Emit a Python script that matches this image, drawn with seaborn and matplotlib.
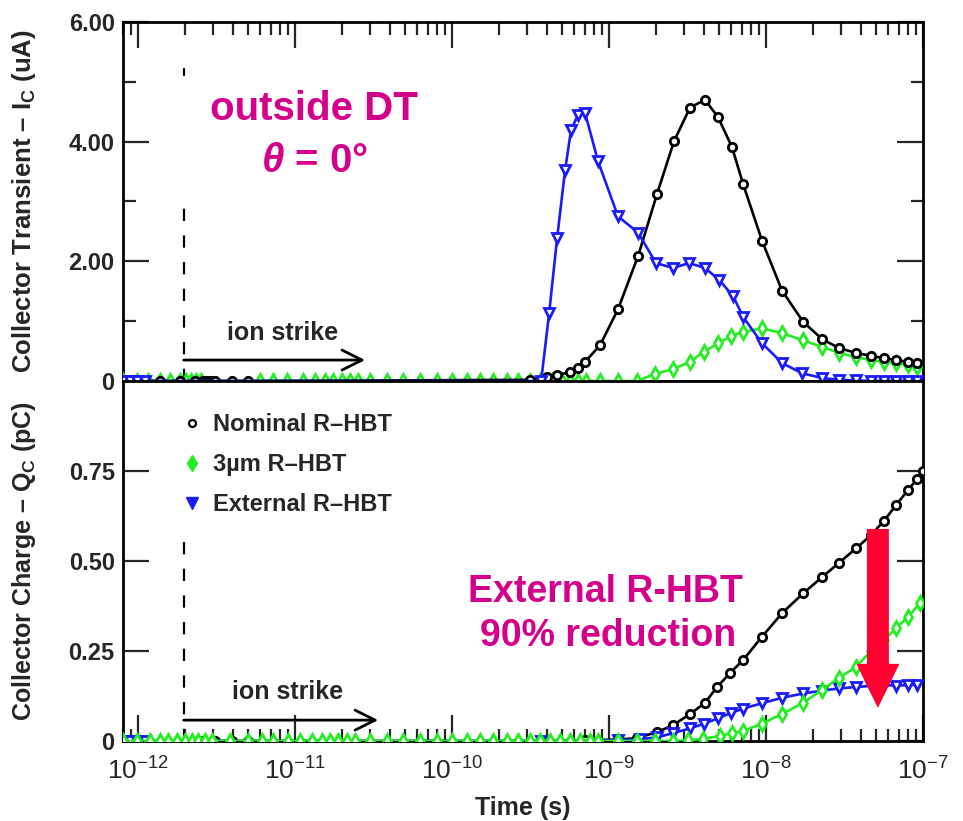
import numpy as np
import pandas as pd
import matplotlib
matplotlib.use("Agg")
import matplotlib.pyplot as plt
import seaborn as sns
from matplotlib.lines import Line2D
from matplotlib.ticker import FixedLocator, FixedFormatter, LogLocator, NullFormatter

# ---------------- data (time as log10 seconds) ----------------
series_names = ["Nominal R\u2013HBT", "3\u00b5m R\u2013HBT", "External R\u2013HBT"]

# Collector transient current (uA)
ic_nom_logt = [-12.097, -11.987, -11.860, -11.732, -11.637, -11.586, -11.567, -11.548, -11.529, -11.510,
               -11.401, -11.299, -9.503, -9.395, -9.331, -9.248, -9.197, -9.153, -9.057, -8.943,
               -8.815, -8.694, -8.586, -8.484, -8.389, -8.306, -8.217, -8.146, -8.025, -7.898,
               -7.764, -7.643, -7.535, -7.427, -7.331, -7.248, -7.172, -7.096, -7.038]
ic_nom = [0, 0, 0, 0, 0, 0, 0, 0, 0, 0,
          0, 0, 0.02, 0.07, 0.10, 0.15, 0.21, 0.32, 0.60, 1.20,
          2.09, 3.13, 4.01, 4.57, 4.70, 4.41, 3.91, 3.29, 2.34, 1.51,
          0.99, 0.70, 0.55, 0.47, 0.42, 0.38, 0.35, 0.32, 0.30]

ic_3um_logt = [-12.097, -12.006, -11.936, -11.860, -11.796, -11.732, -11.694, -11.662, -11.631, -11.599,
               -11.223, -11.140, -11.051, -10.949, -10.873, -10.809, -10.758, -10.701, -10.650, -10.599,
               -10.522, -10.414, -10.312, -10.204, -10.096, -10.000, -9.904, -9.822, -9.739, -9.650,
               -9.580, -9.503, -9.439, -9.363, -9.299, -9.248, -9.197, -9.146, -9.057, -8.943,
               -8.822, -8.707, -8.592, -8.484, -8.395, -8.306, -8.223, -8.146, -8.025, -7.898,
               -7.764, -7.643, -7.535, -7.427, -7.331, -7.248, -7.172, -7.096, -7.038]
ic_3um = [0, 0, 0, 0, 0, 0, 0, 0, 0, 0,
          0, 0, 0, 0, 0, 0, 0, 0, 0, 0,
          0, 0, 0, 0, 0, 0, 0, 0, 0, 0,
          0, 0, 0, 0, 0, 0, 0, 0, 0, 0,
          0, 0.12, 0.20, 0.32, 0.49, 0.63, 0.75, 0.82, 0.88, 0.80,
          0.68, 0.57, 0.47, 0.40, 0.35, 0.32, 0.30, 0.27, 0.24]

ic_ext_logt = [-12.097, -12.051, -12.006, -11.955, -9.433, -9.382, -9.331, -9.280, -9.242, -9.197,
               -9.153, -9.070, -8.943, -8.815, -8.701, -8.592, -8.490, -8.389, -8.299, -8.210,
               -8.146, -8.025, -7.898, -7.771, -7.643, -7.535, -7.427, -7.331, -7.248, -7.172,
               -7.096, -7.038]
ic_ext = [0, 0, 0, 0, 0.0, 1.13, 2.39, 3.53, 4.20, 4.45,
          4.48, 3.67, 2.75, 2.48, 1.97, 1.89, 1.97, 1.89, 1.69, 1.42,
          1.07, 0.63, 0.30, 0.13, 0.05, 0.02, 0.01, 0, 0, 0,
          0, 0]

# Collector charge (pC)
qc_nom_logt = [-12.097, -11.586, -11.510, -11.401, -11.299, -9.408, -9.153, -8.943, -8.822, -8.694,
               -8.592, -8.484, -8.389, -8.312, -8.229, -8.146, -8.025, -7.898, -7.764, -7.643,
               -7.535, -7.427, -7.331, -7.248, -7.172, -7.096, -7.038, -7.000]
qc_nom = [0, 0, 0, 0, 0, 0, 0.002, 0.004, 0.008, 0.025,
          0.044, 0.075, 0.106, 0.150, 0.189, 0.225, 0.290, 0.355, 0.410, 0.455,
          0.495, 0.535, 0.572, 0.612, 0.655, 0.697, 0.727, 0.750]

qc_3um_logt = [-12.097, -12.006, -11.924, -11.860, -11.809, -11.752, -11.701, -11.656, -11.618, -11.573,
               -11.529, -11.414, -11.299, -11.210, -11.140, -11.045, -10.968, -10.892, -10.828, -10.777,
               -10.726, -10.669, -10.618, -10.522, -10.414, -10.312, -10.204, -10.096, -10.000, -9.904,
               -9.822, -9.739, -9.650, -9.580, -9.503, -9.439, -9.376, -9.312, -9.248, -9.185,
               -9.121, -9.070, -8.943, -8.822, -8.707, -8.592, -8.497, -8.401, -8.293, -8.217,
               -8.146, -8.025, -7.898, -7.764, -7.643, -7.535, -7.427, -7.331, -7.248, -7.172,
               -7.096, -7.019]
qc_3um = [0, 0, 0, 0, 0, 0, 0, 0, 0, 0,
          0, 0, 0, 0, 0, 0, 0, 0, 0, 0,
          0, 0, 0, 0, 0, 0, 0, 0, 0, 0,
          0, 0, 0, 0, 0, 0, 0, 0, 0, 0,
          0, 0, 0, 0, 0, 0, 0.002, 0.006, 0.014, 0.022,
          0.028, 0.048, 0.075, 0.106, 0.142, 0.175, 0.206, 0.250, 0.280, 0.314,
          0.344, 0.383]

qc_ext_logt = [-12.097, -12.051, -12.006, -11.955, -9.433, -8.943, -8.803, -8.694, -8.592, -8.484,
               -8.395, -8.306, -8.223, -8.146, -8.025, -7.898, -7.764, -7.643, -7.535, -7.427,
               -7.331, -7.248, -7.172, -7.096, -7.038]
qc_ext = [0, 0, 0, 0, 0, 0.002, 0.005, 0.010, 0.022, 0.035,
          0.048, 0.063, 0.078, 0.090, 0.105, 0.120, 0.132, 0.140, 0.146, 0.150,
          0.153, 0.155, 0.154, 0.155, 0.156]

x_major_ticks = [1e-12, 1e-11, 1e-10, 1e-9, 1e-8, 1e-7]
ic_yticks = [0, 2, 4, 6]
ic_yticklabels = ["0", "2.00", "4.00", "6.00"]
qc_yticks = [0, 0.25, 0.50, 0.75]
qc_yticklabels = ["0", "0.25", "0.50", "0.75"]

strike_time = 1.95e-12

# ---------------- styling ----------------
sns.set_style("ticks")
plt.rcParams["font.family"] = ["Liberation Sans", "DejaVu Sans"]
plt.rcParams["font.weight"] = "bold"
plt.rcParams["mathtext.fontset"] = "custom"
plt.rcParams["mathtext.default"] = "regular"
plt.rcParams["mathtext.it"] = "Liberation Sans:style=italic:weight=bold"
plt.rcParams["mathtext.rm"] = "Liberation Sans:weight=bold"

colors = {"nom": "#000000", "3um": "#22ee22", "ext": "#1a1aff"}
MAGENTA = "#d4008c"

fig = plt.figure(figsize=(9.63, 8.21), dpi=100)
L, R = 123 / 963, 923 / 963
ax1 = fig.add_axes([L, 1 - 381 / 821, R - L, (381 - 22) / 821])
ax2 = fig.add_axes([L, 1 - 741 / 821, R - L, (741 - 381) / 821], sharex=ax1)


def draw(ax, logt, vals, key, marker, ms, z):
    df = pd.DataFrame({"t": 10.0 ** np.array(logt), "v": vals})
    sns.lineplot(data=df, x="t", y="v", ax=ax, color=colors[key], marker=marker,
                 markersize=ms, mec=colors[key], mfc="white", mew=2.0, lw=1.9,
                 estimator=None, sort=False, zorder=z, clip_on=True)


for ax in (ax1, ax2):
    ax.set_xscale("log")

draw(ax1, ic_3um_logt, ic_3um, "3um", "d", 7.5, 3)
draw(ax1, ic_nom_logt, ic_nom, "nom", "o", 6, 4)
draw(ax1, ic_ext_logt, ic_ext, "ext", "v", 7, 5)

draw(ax2, qc_nom_logt, qc_nom, "nom", "o", 6, 3)
draw(ax2, qc_ext_logt, qc_ext, "ext", "v", 7, 4)
draw(ax2, qc_3um_logt, qc_3um, "3um", "d", 7.5, 5)

xmin, xmax = 8.0e-13, 1e-7
ax1.set_xlim(xmin, xmax)
ax1.set_ylim(0, 6)
ax2.set_ylim(0, 1.0)

for ax in (ax1, ax2):
    for s in ax.spines.values():
        s.set_linewidth(2.0)
        s.set_color("black")
    ax.set_xlabel("")
    ax.set_ylabel("")
    ax.xaxis.set_major_locator(FixedLocator(x_major_ticks))
    ax.xaxis.set_minor_locator(LogLocator(base=10, subs=np.arange(2, 10), numticks=20))
    ax.xaxis.set_minor_formatter(NullFormatter())
    ax.tick_params(axis="both", which="major", direction="in", length=19, width=1.6,
                   labelsize=17, pad=6)
    ax.tick_params(axis="both", which="minor", direction="in", length=9, width=1.6)
    ax.tick_params(axis="y", which="both", left=True, right=True)

ax1.tick_params(axis="x", which="both", top=True, bottom=False, labelbottom=False, labeltop=False)
ax2.tick_params(axis="x", which="both", top=False, bottom=True, labelbottom=True)
ax2.tick_params(axis="x", which="major", labelsize=19, pad=12)
for lbl in ax2.get_xticklabels():
    lbl.set_fontweight("normal")

ax1.yaxis.set_major_locator(FixedLocator(ic_yticks))
ax1.yaxis.set_major_formatter(FixedFormatter(ic_yticklabels))
ax1.yaxis.set_minor_locator(FixedLocator([1, 3, 5]))
ax2.yaxis.set_major_locator(FixedLocator(qc_yticks))
ax2.yaxis.set_major_formatter(FixedFormatter(qc_yticklabels))
ax2.yaxis.set_minor_locator(FixedLocator([]))

ax1.set_ylabel("Collector Transient \u2013 I$_{C}$ (uA)", fontsize=18.5, fontweight="bold")
ax2.set_ylabel("Collector Charge \u2013 Q$_{C}$ (pC)", fontsize=18, fontweight="bold")
ax1.yaxis.set_label_coords(-0.106, 0.5)
ax2.yaxis.set_label_coords(-0.106, 0.5)
ax2.set_xlabel("Time (s)", fontsize=18, fontweight="bold", labelpad=8)

# strike markers
ax1.plot([strike_time, strike_time], [0, 3.0], ls=(0, (5.5, 6.5)), lw=1.6, color="black", zorder=2)
ax1.plot([strike_time, strike_time], [5.12, 5.22], lw=1.6, color="black", zorder=2)
ax2.plot([strike_time, strike_time], [0, 0.553], ls=(0, (5.5, 6.5)), lw=1.6, color="black", zorder=2)

arrow_kw = dict(arrowstyle="->,head_length=0.72,head_width=0.36", lw=2.0, color="black",
                shrinkA=0, shrinkB=0, mutation_scale=20)
ax1.annotate("", xy=(2.79e-11, 0.35), xytext=(strike_time, 0.35), arrowprops=arrow_kw)
ax1.text(8.26e-12, 0.80, "ion strike", fontsize=18, ha="center", va="center")
ax2.annotate("", xy=(3.38e-11, 0.058), xytext=(strike_time, 0.058), arrowprops=arrow_kw)
ax2.text(8.9e-12, 0.136, "ion strike", fontsize=18, ha="center", va="center")

# annotations
ax1.text(0.239, 0.727, "outside DT", transform=ax1.transAxes, fontsize=29, color=MAGENTA,
         ha="center", va="baseline", fontweight="bold")
ax1.text(0.239, 0.582, "$\\mathit{\\theta}$ = 0\u00b0", transform=ax1.transAxes, fontsize=29,
         color=MAGENTA, ha="center", va="baseline", fontweight="bold")
ax2.text(0.6025, 0.386, "External R-HBT", transform=ax2.transAxes, fontsize=27, color=MAGENTA,
         ha="center", va="baseline", fontweight="bold")
ax2.text(0.606, 0.264, "90% reduction", transform=ax2.transAxes, fontsize=27, color=MAGENTA,
         ha="center", va="baseline", fontweight="bold")

ax2.annotate("", xy=(5.16e-8, 0.092), xytext=(5.16e-8, 0.589),
             arrowprops=dict(arrowstyle="simple,head_length=31.7,head_width=31,tail_width=15.8",
                             color="#ff0030", mutation_scale=1, shrinkA=0, shrinkB=0, lw=0),
             zorder=10)

# legend
handles = [
    Line2D([], [], ls="none", marker="o", ms=5, mfc="white", mec=colors["nom"], mew=1.6),
    Line2D([], [], ls="none", marker="d", ms=8, mfc=colors["3um"], mec=colors["3um"]),
    Line2D([], [], ls="none", marker="v", ms=8, mfc=colors["ext"], mec=colors["ext"]),
]
ax2.legend(handles, series_names, loc="upper left", bbox_to_anchor=(0.045, 0.97), frameon=False,
           handlelength=1.0, handletextpad=0.4, labelspacing=0.72,
           prop={"weight": "bold", "size": 17})

fig.savefig("out.png", dpi=100)
